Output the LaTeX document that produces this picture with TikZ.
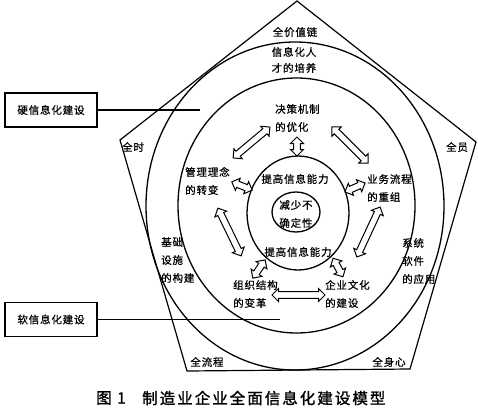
\documentclass[tikz,border=0pt]{standalone}
\usepackage{fontspec}
\newfontfamily\cjk[LetterSpace=8,FakeBold=0.8]{Noto Sans CJK SC}
\newfontfamily\cjkcap[LetterSpace=13,FakeBold=1.5]{Noto Sans CJK SC}
\usepackage{tikz}
\usetikzlibrary{positioning,calc,shapes.arrows}

\begin{document}
\begin{tikzpicture}[x=1pt,y=-1pt,
		lbl/.style={inner sep=0pt,font=\cjk\fontsize{10.5}{18}\selectfont,align=left},
		ring/.style={draw=black,line width=1.3pt},
		sidebox/.style={draw=black,line width=1.2pt,minimum width=92pt,minimum height=34pt,inner sep=0pt,font=\cjk\fontsize{10.5}{12}\selectfont},
		dblarr/.style={double arrow,draw=black,fill=white,line width=1pt,inner xsep=0pt,inner ysep=2.8pt,double arrow head extend=3.2pt,double arrow head indent=0pt}]
		\useasboundingbox (0,0) rectangle (478,412);
		
		% pentagon and rings
		\coordinate (ptop) at (297,1);
		\coordinate (pright) at (476,142);
		\coordinate (pbr) at (410,369);
		\coordinate (pbl) at (187,371);
		\coordinate (pleft) at (120,140);
		\draw[ring,line width=1.2pt] (ptop)--(pright)--(pbr)--(pbl)--(pleft)--cycle;
		\draw[ring] (295,206) ellipse [x radius=149,y radius=164];
		\draw[ring] (296.5,205.5) ellipse [x radius=118.5,y radius=127.5];
		\draw[ring] (298,213) ellipse [x radius=51,y radius=57];
		\draw[ring] (296,212) ellipse [x radius=24,y radius=20];
		
		% corner labels
		\node[lbl] (chain) at (295,32) {全价值链};
		\node[lbl] (time) at (133,147) {全时};
		\node[lbl] (staff) at (457,147) {全员};
		\node[lbl] (flow) at (207,362) {全流程};
		\node[lbl] (mind) at (389,362) {全身心};
		
		% outer ring labels
		\node[lbl,align=center,font=\cjk\fontsize{10.5}{16}\selectfont] (talent) at (294,60) {信息化人\\才的培养};
		\node[lbl,anchor=west] (infra) at (161,260) {基础\\设施\\的构建};
		\node[lbl,anchor=west] (soft) at (402,261) {系统\\软件\\的应用};
		
		% inner ring labels
		\node[lbl,anchor=west] (decide) at (275,118) {决策机制\\的优化};
		\node[lbl,anchor=west] (idea) at (185,181) {管理理念\\的转变};
		\node[lbl,anchor=west] (proc) at (367,188) {业务流程\\的重组};
		\node[lbl,anchor=west] (org) at (233,294) {组织结构\\的变革};
		\node[lbl,anchor=west] (cult) at (325,294) {企业文化\\的建设};
		\node[lbl] (abil1) at (295,179) {提高信息能力};
		\node[lbl] (abil2) at (298,252) {提高信息能力};
		\node[lbl,align=center] (core) at (296,214) {减少不\\确定性};
		
		% hollow double arrows
		\node[dblarr,minimum height=19pt,rotate=90] (a1) at (297,146.5) {};
		\node[dblarr,minimum height=48pt,rotate=40] (a2) at (251.5,142.5) {};
		\node[dblarr,minimum height=51pt,rotate=-45] (a3) at (350,145) {};
		\node[dblarr,minimum height=22pt,rotate=-22] (a4) at (242,186) {};
		\node[dblarr,minimum height=22pt,rotate=24] (a5) at (355,187.5) {};
		\node[dblarr,minimum height=53pt,rotate=-64] (a6) at (229.5,232) {};
		\node[dblarr,minimum height=55pt,rotate=65] (a7) at (368.5,232) {};
		\node[dblarr,minimum height=22pt,rotate=56] (a8) at (259,269) {};
		\node[dblarr,minimum height=21pt,rotate=-62] (a9) at (338,267.5) {};
		\node[dblarr,minimum height=53pt] (a10) at (298.5,295) {};
		
		% side boxes
		\node[sidebox] (hard) at (51,110) {硬信息化建设};
		\node[sidebox] (softbox) at (51,319.5) {软信息化建设};
		\coordinate (hardend) at (200,110);
		\coordinate (softend) at (280,319.5);
		\draw[line width=1.2pt] (hard.east)--(hardend);
		\draw[line width=1.2pt] (softbox.east)--(softend);
		
		% caption
		\node[inner sep=0pt,anchor=west,font=\cjkcap\fontsize{15.5}{17}\selectfont] (capnum) at (96,398) {图 1};
		\node[inner sep=0pt,anchor=west,font=\cjkcap\fontsize{15.5}{17}\selectfont] (captext) at (142,398) {制造业企业全面信息化建设模型};
	\end{tikzpicture}
\end{document}
